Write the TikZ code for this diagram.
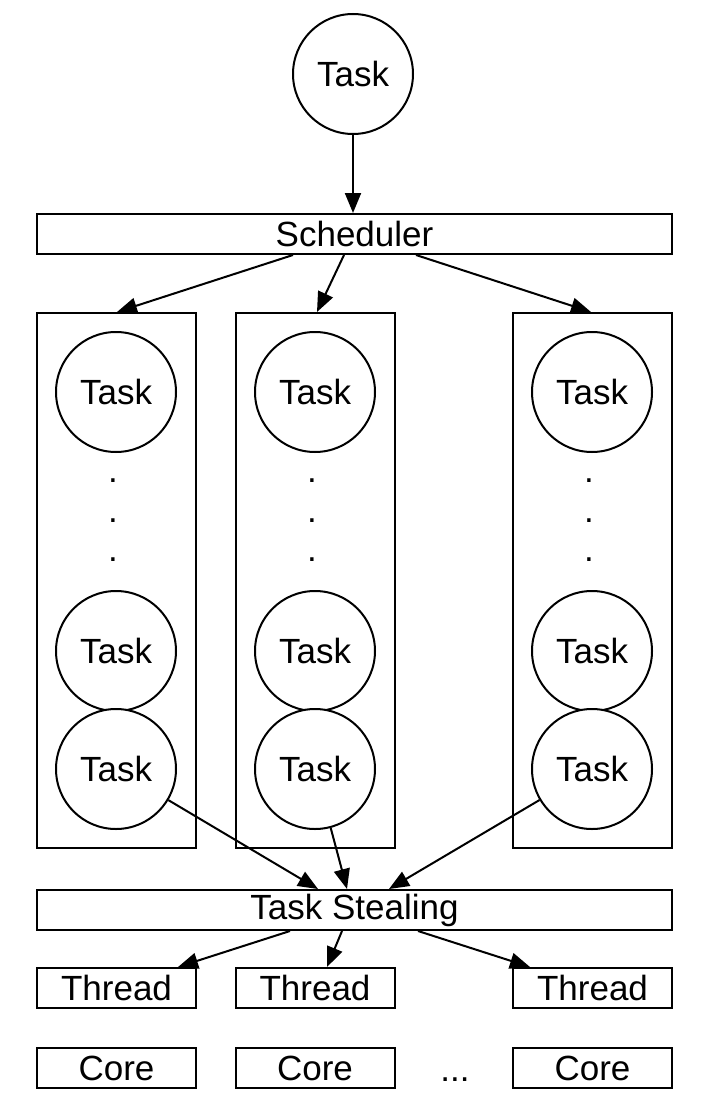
\documentclass[tikz,border=0pt]{standalone}
\usepackage{fontspec}
\setmainfont{Liberation Sans}
\usetikzlibrary{arrows.meta}
\begin{document}
\begin{tikzpicture}[x=1pt,y=-1pt,
  line width=2pt,
  every node/.style={font=\fontsize{35}{42}\selectfont, inner sep=0pt},
  taskc/.style={draw, circle, minimum size=120pt, fill=white},
  bar/.style={draw, rectangle, minimum width=635pt, minimum height=40pt},
  column/.style={draw, rectangle, minimum width=159pt, minimum height=535pt},
  unit/.style={draw, rectangle, minimum width=159pt, minimum height=40pt},
  arr/.style={-{Triangle[length=20pt,width=16pt]}},
  dot/.style={anchor=base}]
\useasboundingbox (0,0) rectangle (714,1116);

% incoming task and scheduler
\node[taskc] (top) at (353,74) {Task};
\node[bar] (sched) at (354.5,234) {Scheduler};

% per-thread task queues
\node[column] (q1) at (116.5,580.5) {};
\node[column] (q2) at (315,580.5) {};
\node[column] (q3) at (592.5,580.5) {};

\foreach \q/\x in {1/116,2/315,3/592} {
  \node[taskc] (t\q a) at (\x,392) {Task};
  \node[taskc] (t\q b) at (\x,651) {Task};
  \node[taskc] (t\q c) at (\x,769) {Task};
  \node[dot] (d\q a) at (\x-3,482) {.};
  \node[dot] (d\q b) at (\x-3,522) {.};
  \node[dot] (d\q c) at (\x-3,561) {.};
}

% task stealing layer
\node[bar] (steal) at (354.5,910) {Task Stealing};

% threads and cores
\node[unit] (th1) at (116.5,988) {Thread};
\node[unit] (th2) at (315,988) {Thread};
\node[unit] (th3) at (592.5,988) {Thread};
\node[unit] (co1) at (116.5,1068) {Core};
\node[unit] (co2) at (315,1068) {Core};
\node[unit] (co3) at (592.5,1068) {Core};
\node[anchor=base] (more) at (455,1081) {...};

% reference x positions for connector ends
\coordinate (xa) at (293,0);
\coordinate (xb) at (344,0);
\coordinate (xc) at (416,0);
\coordinate (xd) at (117,0);
\coordinate (xe) at (317,0);
\coordinate (xf) at (591,0);
\coordinate (xg) at (318,0);
\coordinate (xh) at (347,0);
\coordinate (xi) at (389,0);
\coordinate (xj) at (290,0);
\coordinate (xk) at (342,0);
\coordinate (xl) at (418,0);
\coordinate (xm) at (178,0);
\coordinate (xn) at (327,0);
\coordinate (xo) at (530,0);

\coordinate (s1) at (sched.south -| xa);
\coordinate (s2) at (sched.south -| xb);
\coordinate (s3) at (sched.south -| xc);
\coordinate (q1t) at (q1.north -| xd);
\coordinate (q2t) at (q2.north -| xe);
\coordinate (q3t) at (q3.north -| xf);
\coordinate (g1) at (steal.north -| xg);
\coordinate (g2) at (steal.north -| xh);
\coordinate (g3) at (steal.north -| xi);
\coordinate (h1) at (steal.south -| xj);
\coordinate (h2) at (steal.south -| xk);
\coordinate (h3) at (steal.south -| xl);
\coordinate (r1) at (th1.north -| xm);
\coordinate (r2) at (th2.north -| xn);
\coordinate (r3) at (th3.north -| xo);

% connectors
\draw[arr] (top.south) -- (sched.north -| top.south);
\draw[arr] (s1) -- (q1t);
\draw[arr] (s2) -- (q2t);
\draw[arr] (s3) -- (q3t);
\draw[arr] (t1c) -- (g1);
\draw[arr] (t2c) -- (g2);
\draw[arr] (t3c) -- (g3);
\draw[arr] (h1) -- (r1);
\draw[arr] (h2) -- (r2);
\draw[arr] (h3) -- (r3);
\end{tikzpicture}
\end{document}
